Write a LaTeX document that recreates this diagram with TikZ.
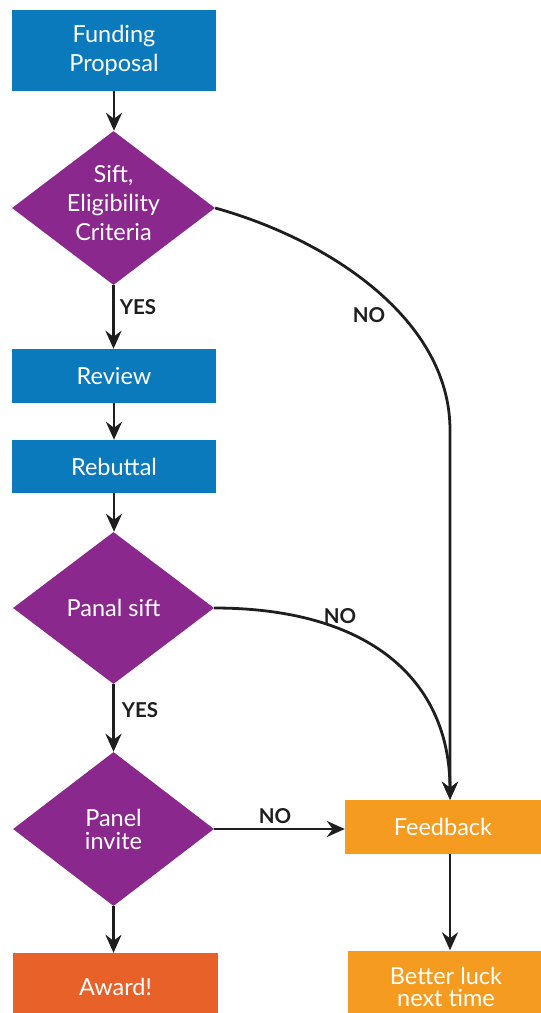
\documentclass[tikz,border=0pt]{standalone}
\usepackage{fontspec}
\setmainfont{Lato}
\usetikzlibrary{shapes.geometric,arrows.meta}
\definecolor{stepblue}{HTML}{0A7ABD}
\definecolor{decpurple}{HTML}{8B288D}
\definecolor{awardorange}{HTML}{E86128}
\definecolor{fborange}{HTML}{F59B20}
\definecolor{inkline}{HTML}{1E1E1E}
\begin{document}
\begin{tikzpicture}[x=1pt,y=-1pt,
  box/.style={rectangle, fill=#1, text=white, inner sep=0pt, align=center,
    font=\fontsize{23.5}{29}\selectfont},
  decision/.style={diamond, fill=decpurple, text=white, inner sep=0pt, align=center,
    font=\fontsize{23.5}{29}\selectfont},
  dtext/.style={text=white, inner sep=0pt, align=center, font=\fontsize{23.5}{29}\selectfont},
  flow/.style={draw=inkline, line width=2.8pt,
    -{Stealth[length=18pt,width=16pt,inset=6pt]}},
  answer/.style={font=\bfseries\fontsize{20.5}{22}\selectfont, text=inkline}
]
\useasboundingbox (0,0) rectangle (541,1013);
\clip (0,0) rectangle (541,1013);

% main column
\node[box=stepblue, minimum width=204pt, minimum height=81pt] (fund) at (114,50.5) {Funding\\Proposal};
\node[decision, minimum width=203pt, minimum height=154pt] (d1) at (113.5,208) {};
\node[dtext] (d1t) at (113.5,203) {Sift,\\Eligibility\\Criteria};
\node[box=stepblue, minimum width=204pt, minimum height=54pt] (rev) at (114,376) {Review};
\node[box=stepblue, minimum width=204pt, minimum height=53pt] (reb) at (114,466.5) {Rebuttal};
\node[decision, minimum width=201pt, minimum height=152pt] (d2) at (113.5,608) {Panal sift};
\node[decision, minimum width=201pt, minimum height=154pt, font=\fontsize{23.5}{23}\selectfont] (d3) at (113.5,829) {Panel\\invite};
\node[box=awardorange, minimum width=205pt, minimum height=68pt] (award) at (115.5,987) {Award!};

% feedback column
\node[box=fborange, minimum width=196pt, minimum height=54pt] (fb) at (443,827) {Feedback};
\node[box=fborange, minimum width=196pt, minimum height=72pt, font=\fontsize{23.5}{22}\selectfont] (luck) at (446,986.5) {Better luck\\next time};
\coordinate (col) at (450,0);
\coordinate (bend) at (450,430);

% connectors
\draw[flow] (fund.south) -- (fund.south |- d1.north);
\draw[flow] (d1.south) -- (d1.south |- rev.north);
\draw[flow] (rev.south) -- (reb.north);
\draw[flow] (reb.south) -- (reb.south |- d2.north);
\draw[flow] (d2.south) -- (d2.south |- d3.north);
\draw[flow] (d3.south) -- (d3.south |- award.north);
\draw[flow] (d1.east) .. controls +(115,32) and +(0,-110) .. (bend) -- (fb.north -| col);
\draw[flow] (d2.east) .. controls +(155,0) and +(0,-120) .. (fb.north -| col);
\draw[flow] (d3.east) -- (d3.east -| fb.west);
\draw[flow] (fb.south -| col) -- (luck.north -| col);

% answer labels
\node[answer] (yes1) at (138,307) {YES};
\node[answer] (yes2) at (140,710) {YES};
\node[answer] (no1) at (369,315) {NO};
\node[answer] (no2) at (340,616) {NO};
\node[answer] (no3) at (275,816) {NO};
\end{tikzpicture}
\end{document}
